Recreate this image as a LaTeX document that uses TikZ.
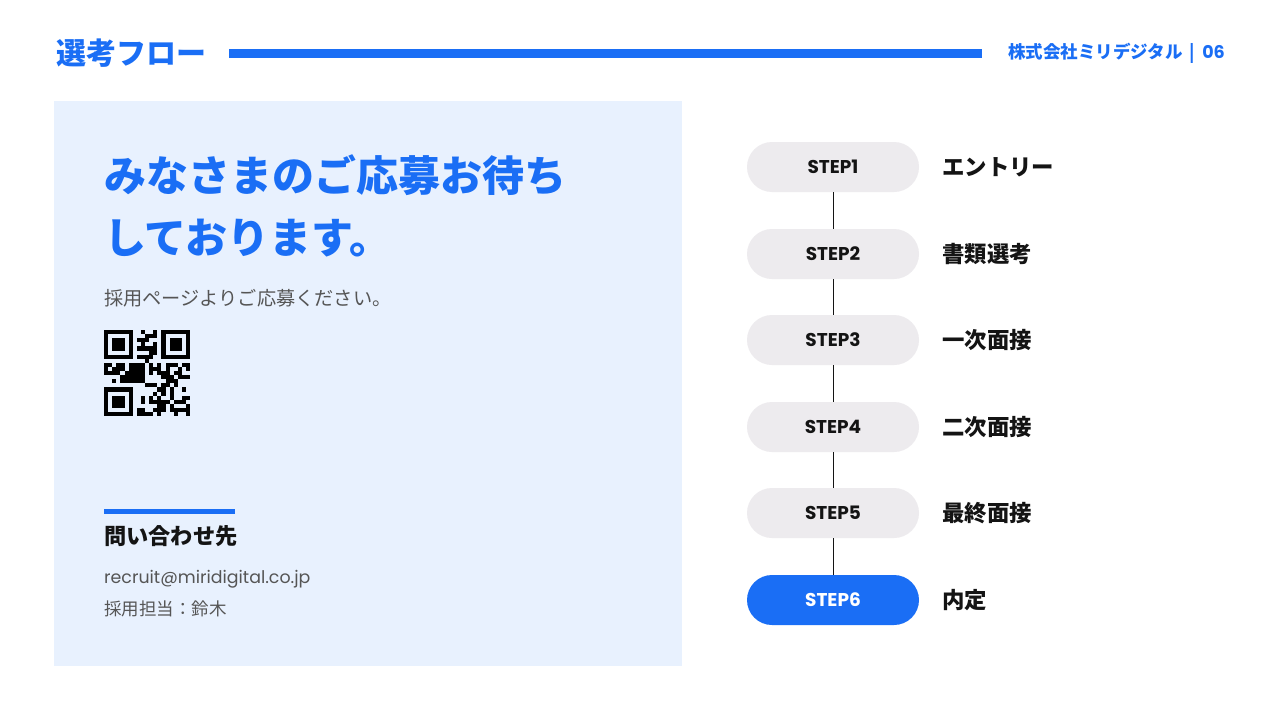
\documentclass[tikz,border=0pt]{standalone}
\usepackage{fontspec}
\setmainfont{Noto Sans CJK JP}
\newfontfamily\latinfont{Poppins}
\definecolor{miriblue}{RGB}{26,110,245}
\definecolor{panelblue}{RGB}{232,241,254}
\definecolor{pillgray}{RGB}{237,235,238}
\definecolor{textdark}{RGB}{20,20,20}
\definecolor{textgray}{RGB}{85,85,85}

\begin{document}
\begin{tikzpicture}[x = 1pt, y = -1pt,
                    pill/.style = {rectangle, rounded corners = 25pt, fill = pillgray, minimum width = 172pt, minimum height = 50pt,
                                   text = textdark, font = \latinfont\bfseries\fontsize{18.5}{18.5}\selectfont},
                    steplabel/.style = {anchor = west, inner sep = 0, text = textdark, font = \bfseries\fontsize{22.4}{22.4}\selectfont},
                    txt/.style = {anchor = west, inner sep = 0}]
  \useasboundingbox[fill = white] (0,0) rectangle (1280,720);

  \node [txt, text = miriblue, font = \bfseries\fontsize{30}{30}\selectfont] (T01) at (56,53) {選考フロー};
  \fill [miriblue] (229,48.5) rectangle (982,57.5);
  \node [txt, anchor = east, text = miriblue, font = \bfseries\fontsize{17.5}{17.5}\selectfont] (T02) at (1225,53)
        {株式会社ミリデジタル\hspace{7pt}|\hspace{7pt}{\latinfont\bfseries 06}};

  \fill [panelblue] (54,101) rectangle (682,666);
  \node [txt, text = miriblue, font = \bfseries\fontsize{42}{42}\selectfont] (T11) at (104,175) {みなさまのご応募お待ち};
  \node [txt, text = miriblue, font = \bfseries\fontsize{42}{42}\selectfont] (T12) at (104,238) {しております。};
  \node [txt, text = textgray, font = \fontsize{19.2}{19.2}\selectfont] (T13) at (104,298) {採用ページよりご応募ください。};

  \foreach \qx/\qy in {0/0, 14/0, 0/14}{
    \fill [black] (104+\qx*4.1,330+\qy*4.1) rectangle ++(7*4.1,7*4.1);
    \fill [panelblue] (104+\qx*4.1+4.1,330+\qy*4.1+4.1) rectangle ++(5*4.1,5*4.1);
    \fill [black] (104+\qx*4.1+8.2,330+\qy*4.1+8.2) rectangle ++(3*4.1,3*4.1);
  }
  \pgfmathsetseed{21}
  \foreach \i in {0,...,20}{
    \foreach \j in {0,...,20}{
      \pgfmathtruncatemacro\q{((\i<8)&&(\j<8))||((\i>12)&&(\j<8))||((\i<8)&&(\j>12)) ? 0 : (rnd<0.55)}
      \ifnum\q=1 \fill [black] (104+\i*4.1,330+\j*4.1) rectangle ++(4.1,4.1); \fi
    }
  }

  \fill [miriblue] (104,508.5) rectangle (235,513.5);
  \node [txt, text = textdark, font = \bfseries\fontsize{22.2}{22.2}\selectfont] (T21) at (104,536) {問い合わせ先};
  \node [txt, text = textgray, font = \latinfont\fontsize{17.4}{17.4}\selectfont] (T22) at (104,579) {recruit@miridigital.co.jp};
  \node [txt, text = textgray, font = \fontsize{17.5}{17.5}\selectfont] (T23) at (104,609) {採用担当：鈴木};

  \node [pill] (S1) at (833,167) {STEP1};
  \node [pill] (S2) at (833,254) {STEP2};
  \node [pill] (S3) at (833,340) {STEP3};
  \node [pill] (S4) at (833,427) {STEP4};
  \node [pill] (S5) at (833,513) {STEP5};
  \node [pill, fill = miriblue, text = white] (S6) at (833,600) {STEP6};
  \node [steplabel] (L1) at (942,167) {エントリー};
  \node [steplabel] (L2) at (942,254) {書類選考};
  \node [steplabel] (L3) at (942,340) {一次面接};
  \node [steplabel] (L4) at (942,427) {二次面接};
  \node [steplabel] (L5) at (942,513) {最終面接};
  \node [steplabel] (L6) at (942,600) {内定};

  \draw [textdark, line width = 1pt] (S1)--(S2);
  \draw [textdark, line width = 1pt] (S2)--(S3);
  \draw [textdark, line width = 1pt] (S3)--(S4);
  \draw [textdark, line width = 1pt] (S4)--(S5);
  \draw [textdark, line width = 1pt] (S5)--(S6);
\end{tikzpicture}
\end{document}
